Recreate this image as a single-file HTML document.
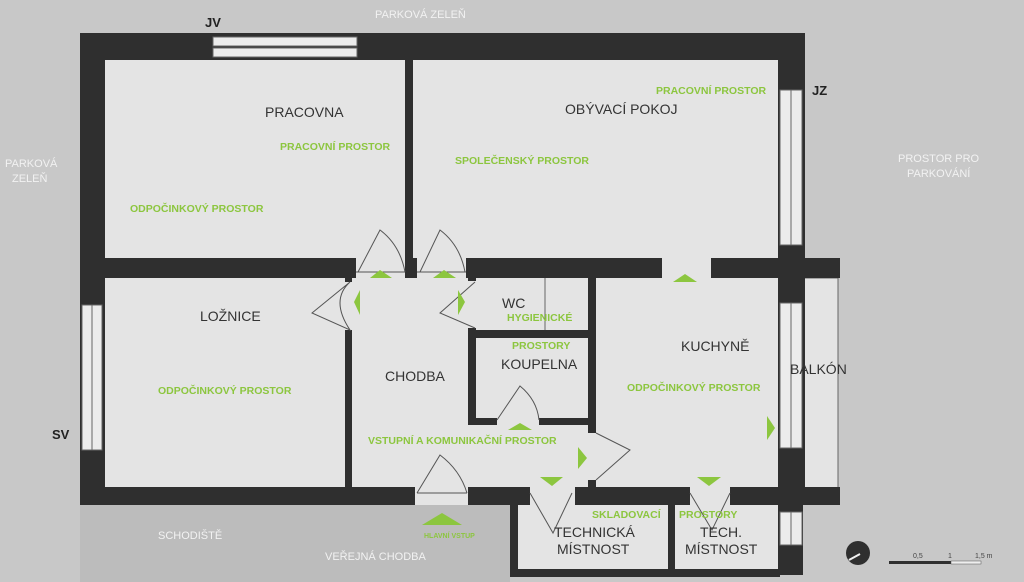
<!DOCTYPE html>
<html><head><meta charset="utf-8"><style>
html,body{margin:0;padding:0;background:#c8c8c8;}
svg{display:block}
text{font-family:"Liberation Sans",sans-serif;}
.n{fill:#333;font-size:14px}
.g{fill:#8cc63f;font-size:10.5px;font-weight:bold}
.o{fill:#f2f2f2;font-size:11px}
</style></head><body>
<svg width="1024" height="582" viewBox="0 0 1024 582" xmlns="http://www.w3.org/2000/svg">
<rect width="1024" height="582" fill="#c8c8c8"/>
<rect x="80" y="505" width="430" height="77" fill="#bcbcbc"/>
<!-- floors -->
<rect x="80" y="33" width="725" height="472" fill="#e4e4e4"/>
<rect x="803" y="278" width="35" height="210" fill="#e4e4e4" stroke="#666" stroke-width="1"/>
<rect x="510" y="490" width="270" height="85" fill="#e4e4e4"/>
<g fill="#2f2f2f">
<!-- outer walls -->
<rect x="80" y="33" width="725" height="27"/>
<rect x="80" y="33" width="25" height="472"/>
<rect x="778" y="33" width="27" height="472"/>
<rect x="80" y="487" width="335" height="18"/>
<rect x="468" y="487" width="62" height="18"/>
<rect x="575" y="487" width="115" height="18"/>
<rect x="730" y="487" width="110" height="18"/>
<rect x="778" y="258" width="62" height="20"/>
<rect x="778" y="505" width="25" height="70"/>
<!-- interior -->
<rect x="405" y="60" width="8" height="215"/>
<rect x="105" y="258" width="251" height="20"/>
<rect x="405" y="258" width="12" height="20"/>
<rect x="466" y="258" width="196" height="20"/>
<rect x="711" y="258" width="70" height="20"/>
<rect x="345" y="278" width="7" height="4"/>
<rect x="345" y="330" width="7" height="157"/>
<rect x="468" y="278" width="8" height="3"/>
<rect x="468" y="328" width="8" height="97"/>
<rect x="468" y="330" width="128" height="8"/>
<rect x="468" y="418" width="29" height="7"/>
<rect x="539" y="418" width="57" height="7"/>
<rect x="588" y="278" width="8" height="155"/>
<rect x="588" y="480" width="8" height="10"/>
<!-- tech rooms -->
<rect x="510" y="505" width="8" height="72"/>
<rect x="510" y="569" width="270" height="8"/>
<rect x="668" y="505" width="7" height="70"/>
</g>
<!-- windows -->
<g fill="#ececec" stroke="#666" stroke-width="1">
<rect x="213" y="37" width="144" height="9"/><rect x="213" y="48" width="144" height="9"/>
<rect x="780" y="90" width="11" height="155"/><rect x="791" y="90" width="11" height="155"/>
<rect x="780" y="303" width="11" height="145"/><rect x="791" y="303" width="11" height="145"/>
<rect x="780" y="512" width="11" height="33"/><rect x="791" y="512" width="11" height="33"/>
<rect x="82" y="305" width="10" height="145"/><rect x="92" y="305" width="10" height="145"/>
</g>
<!-- WC partition line -->
<line x1="545" y1="278" x2="545" y2="330" stroke="#666"/>
<!-- doors -->
<g fill="none" stroke="#555" stroke-width="1">
<path d="M358 272 L380 230 Q400 245 405 272 M356 272 L405 272"/>
<path d="M420 272 L440 230 Q460 245 465 272 M417 272 L466 272"/>
<path d="M350 282 L312 313 L350 330 Q330 300 350 282"/>
<path d="M475 282 L440 313 L475 328"/>
<path d="M497 420 L520 386 Q537 400 539 420"/>
<path d="M596 433 L630 450 L596 480"/>
<path d="M417 493 L440 455 Q460 470 467 493 M417 493 L467 493"/>
<path d="M530 493 L553 533 L572 493"/>
<path d="M690 493 L712 530 L730 493"/>
</g>
<!-- green arrows -->
<g fill="#8cc63f">
<polygon points="370,278 380,270 392,278"/>
<polygon points="433,278 444,270 456,278"/>
<polygon points="673,282 685,274 697,282"/>
<polygon points="354,302 360,290 360,315"/>
<polygon points="465,302 458,290 458,315"/>
<polygon points="508,430 520,423 532,430"/>
<polygon points="587,458 578,447 578,469"/>
<polygon points="775,428 767,416 767,440"/>
<polygon points="540,477 552,486 563,477"/>
<polygon points="697,477 709,486 721,477"/>
<polygon points="422,525 442,513 462,525"/>
</g>
<!-- labels -->
<text class="n" x="265" y="117">PRACOVNA</text>
<text class="n" x="565" y="114">OBÝVACÍ POKOJ</text>
<text class="n" x="200" y="321">LOŽNICE</text>
<text class="n" x="385" y="381">CHODBA</text>
<text class="n" x="502" y="308">WC</text>
<text class="n" x="501" y="369">KOUPELNA</text>
<text class="n" x="681" y="351">KUCHYNĚ</text>
<text class="n" x="790" y="374">BALKÓN</text>
<text class="n" x="554" y="537">TECHNICKÁ</text>
<text class="n" x="557" y="554">MÍSTNOST</text>
<text class="n" x="700" y="537">TECH.</text>
<text class="n" x="685" y="554">MÍSTNOST</text>
<text class="g" x="280" y="150">PRACOVNÍ PROSTOR</text>
<text class="g" x="130" y="212">ODPOČINKOVÝ PROSTOR</text>
<text class="g" x="455" y="164">SPOLEČENSKÝ PROSTOR</text>
<text class="g" x="656" y="94">PRACOVNÍ PROSTOR</text>
<text class="g" x="158" y="394">ODPOČINKOVÝ PROSTOR</text>
<text class="g" x="507" y="321">HYGIENICKÉ</text>
<text class="g" x="512" y="349">PROSTORY</text>
<text class="g" x="627" y="391">ODPOČINKOVÝ PROSTOR</text>
<text class="g" x="368" y="444">VSTUPNÍ A KOMUNIKAČNÍ PROSTOR</text>
<text class="g" x="592" y="518">SKLADOVACÍ</text>
<text class="g" x="679" y="518">PROSTORY</text>
<text class="g" x="424" y="538" style="font-size:7px">HLAVNÍ VSTUP</text>
<text class="o" x="375" y="18">PARKOVÁ ZELEŇ</text>
<text class="o" x="5" y="167">PARKOVÁ</text>
<text class="o" x="12" y="182">ZELEŇ</text>
<text class="o" x="898" y="162">PROSTOR PRO</text>
<text class="o" x="907" y="177">PARKOVÁNÍ</text>
<text class="o" x="158" y="539">SCHODIŠTĚ</text>
<text class="o" x="325" y="560">VEŘEJNÁ CHODBA</text>
<text x="205" y="27" style="font-size:13px;font-weight:bold;fill:#222">JV</text>
<text x="812" y="95" style="font-size:13px;font-weight:bold;fill:#222">JZ</text>
<text x="52" y="439" style="font-size:13px;font-weight:bold;fill:#222">SV</text>
<!-- compass & scale -->
<circle cx="858" cy="553" r="12" fill="#2f2f2f"/>
<line x1="849" y1="560" x2="860" y2="554" stroke="#eee" stroke-width="2"/>
<rect x="889" y="561" width="62" height="3" fill="#2f2f2f"/>
<rect x="951" y="561" width="30" height="3" fill="#eee" stroke="#555" stroke-width="0.5"/>
<text x="913" y="558" style="font-size:7px;fill:#444">0,5</text>
<text x="948" y="558" style="font-size:7px;fill:#444">1</text>
<text x="975" y="558" style="font-size:7px;fill:#444">1,5 m</text>
</svg>
</body></html>
